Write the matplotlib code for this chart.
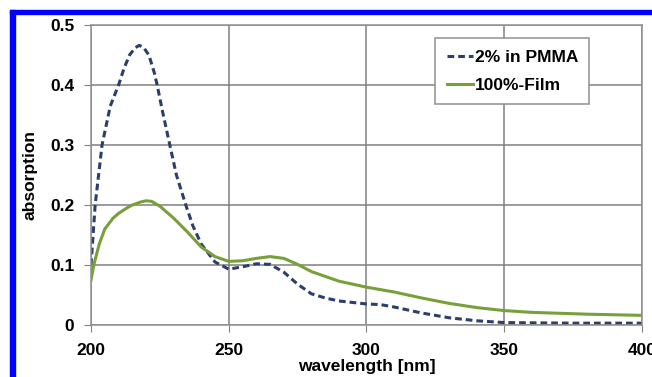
import numpy as np
import matplotlib.pyplot as plt
import matplotlib.patches as patches

plt.rcParams['font.family'] = ['Liberation Sans', 'DejaVu Sans']
plt.rcParams['font.weight'] = 'bold'

# 2% in PMMA
wl_pmma = [200, 201.5, 204, 207, 210, 212, 214, 216, 217.5, 219, 221, 223, 224, 226, 228.6,
           231, 234.4, 237, 240, 245, 250, 255, 260, 265, 270, 275, 280, 285, 290, 300, 305,
           310, 320, 330, 340, 350, 375, 400]
abs_pmma = [0.10, 0.20, 0.30, 0.365, 0.40, 0.428, 0.45, 0.462, 0.466, 0.463, 0.45, 0.42,
            0.40, 0.355, 0.30, 0.25, 0.20, 0.165, 0.135, 0.105, 0.093, 0.097, 0.102, 0.101,
            0.088, 0.068, 0.052, 0.045, 0.040, 0.035, 0.034, 0.030, 0.020, 0.012, 0.007,
            0.004, 0.003, 0.003]

# 100%-Film
wl_film = [200, 201, 203, 205, 208, 210, 213, 215, 218, 220, 222, 225, 230, 235, 240, 245,
           250, 255, 260, 265, 270, 275, 280, 290, 300, 310, 320, 330, 340, 350, 360, 380, 400]
abs_film = [0.075, 0.10, 0.135, 0.16, 0.178, 0.186, 0.195, 0.20, 0.205, 0.207, 0.206, 0.198,
            0.178, 0.155, 0.13, 0.114, 0.106, 0.107, 0.111, 0.114, 0.111, 0.101, 0.089, 0.073,
            0.063, 0.055, 0.045, 0.036, 0.029, 0.024, 0.021, 0.018, 0.016]

fig = plt.figure(figsize=(6.52, 3.77), dpi=100)
ax = fig.add_axes([0.1396, 0.138, 0.845, 0.7957])

ax.plot(wl_pmma, abs_pmma, color='#2c3e6b', lw=2.2, ls=(0, (2.2, 1.3)), label='2% in PMMA')
ax.plot(wl_film, abs_film, color='#77a03a', lw=2.2, label='100%-Film')

ax.set_xlim(200, 400)
ax.set_ylim(0, 0.5)
ax.set_xticks([200, 250, 300, 350, 400])
ax.set_yticks([0, 0.1, 0.2, 0.3, 0.4, 0.5])
ax.set_yticklabels(['0', '0.1', '0.2', '0.3', '0.4', '0.5'])
ax.grid(True, color='#808080', lw=1.1)
for s in ax.spines.values():
    s.set_color('#909090')
    s.set_linewidth(1.1)
ax.tick_params(direction='out', length=5, color='#808080', labelsize=12.5)
ax.tick_params(axis='x', pad=8)
ax.tick_params(axis='y', pad=7)
for lab in ax.get_xticklabels() + ax.get_yticklabels():
    lab.set_fontweight('bold')
ax.set_xlabel('wavelength [nm]', fontsize=12.5, fontweight='bold', labelpad=1)
ax.set_ylabel('absorption', fontsize=12.5, fontweight='bold', labelpad=9)

leg = ax.legend(loc='upper right', bbox_to_anchor=(0.92, 0.985),
                handlelength=1.5, handletextpad=0.1, borderpad=0.65, labelspacing=0.75,
                fancybox=False, framealpha=1, edgecolor='#909090', prop={'weight': 'bold', 'size': 12.5})
leg.get_frame().set_linewidth(1.1)

# blue border of the original screenshot
fig.patches.append(patches.Rectangle((10 / 652, 0), 5 / 652, 1 - 10 / 377, transform=fig.transFigure,
                                     color='#0000ff', zorder=10))
fig.patches.append(patches.Rectangle((10 / 652, 1 - 14 / 377), 1, 4 / 377, transform=fig.transFigure,
                                     color='#0000ff', zorder=10))

fig.savefig('out.png', dpi=100)
